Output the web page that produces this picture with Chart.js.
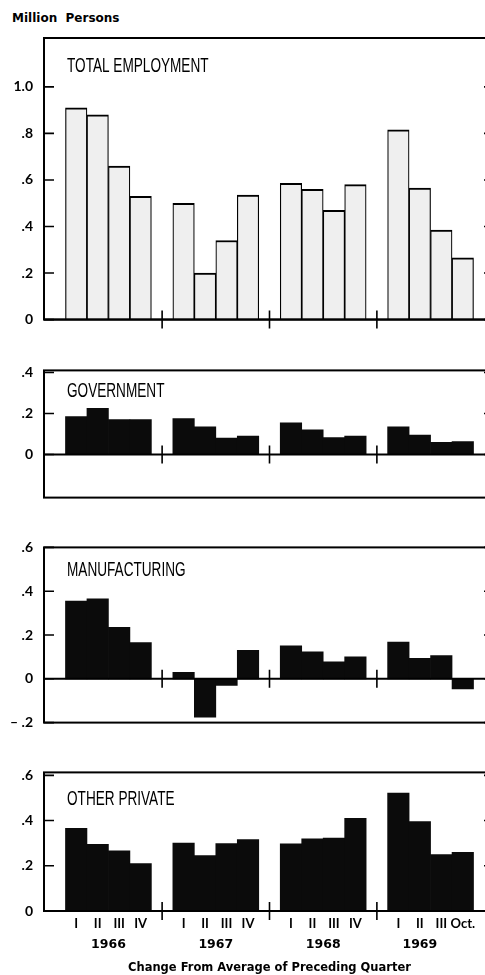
<!DOCTYPE html>
<html>
<head>
<meta charset="utf-8">
<script src="https://cdn.jsdelivr.net/npm/chart.js@4.4.1/dist/chart.umd.min.js"></script>
<style>
  html, body { margin: 0; padding: 0; background: #fff; overflow: hidden; width: 485px; height: 975px; }
  canvas { position: absolute; left: 0; }
  #unit { position: absolute; left: 12px; top: 10px; font: bold 12px "DejaVu Sans", sans-serif; line-height: 16px; color: #000; white-space: pre; }
</style>
</head>
<body>
<div id="unit">Million  Persons</div>
<canvas id="total" width="505" height="339" style="top:0px"></canvas>
<canvas id="gov" width="505" height="166" style="top:351px"></canvas>
<canvas id="mfg" width="505" height="214" style="top:528px"></canvas>
<canvas id="other" width="505" height="222" style="top:753px"></canvas>
<script>
// quarters 1966 I .. 1969 Oct., change from average of preceding quarter (million persons)
const quarters = ["", "I", "II", "III", "IV", "", "I", "II", "III", "IV", "", "I", "II", "III", "IV", "", "I", "II", "III", "Oct.", ""];
const years = ["1966", "1967", "1968", "1969"];
const yearSpans = [[1, 4], [6, 9], [11, 14], [16, 18]];
const separatorSlots = [5, 10, 15];

const totalEmployment = [0.91, 0.88, 0.66, 0.53, 0.50, 0.20, 0.34, 0.535, 0.585, 0.56, 0.47, 0.58, 0.815, 0.565, 0.385, 0.265];
const government = [0.185, 0.225, 0.17, 0.17, 0.175, 0.135, 0.08, 0.09, 0.155, 0.12, 0.083, 0.09, 0.135, 0.095, 0.06, 0.063];
const manufacturing = [0.355, 0.365, 0.235, 0.165, 0.03, -0.175, -0.03, 0.13, 0.15, 0.123, 0.078, 0.10, 0.168, 0.094, 0.106, -0.046];
const otherPrivate = [0.366, 0.295, 0.266, 0.21, 0.30, 0.245, 0.298, 0.316, 0.297, 0.319, 0.322, 0.41, 0.522, 0.396, 0.249, 0.259];

const totalTicks = [0, 0.2, 0.4, 0.6, 0.8, 1.0];
const totalTickLabels = ["0", ".2", ".4", ".6", ".8", "1.0"];
const govTicks = [0, 0.2, 0.4];
const govTickLabels = ["0", ".2", ".4"];
const mfgTicks = [-0.2, 0, 0.2, 0.4, 0.6];
const mfgTickLabels = ["\u2013 .2", "0", ".2", ".4", ".6"];
const otherTicks = [0, 0.2, 0.4, 0.6];
const otherTickLabels = ["0", ".2", ".4", ".6"];

// put a blank slot in front of every year
const withGaps = (values) => {
    const out = [];
    values.forEach((v, i) => {
        if (i % 4 === 0) out.push(null);
        out.push(v);
    });
    out.push(null);
    return out;
};

const framePlugin = {
    id: 'frame',
    afterDatasetsDraw(chart, args, opts) {
        const {ctx, chartArea: a, scales: {x, y}} = chart;
        const y0 = y.getPixelForValue(0);
        ctx.save();
        ctx.strokeStyle = '#000';
        ctx.lineWidth = 2;
        ctx.strokeRect(a.left, a.top, a.right - a.left, a.bottom - a.top);
        ctx.beginPath();
        ctx.moveTo(a.left, y0);
        ctx.lineTo(a.right, y0);
        ctx.stroke();
        ctx.lineWidth = 1.6;
        ctx.beginPath();
        separatorSlots.forEach(i => {
            const px = x.getPixelForValue(i);
            ctx.moveTo(px, y0 - 9);
            ctx.lineTo(px, y0 + 9);
        });
        opts.ticks.forEach(v => {
            const py = y.getPixelForValue(v);
            ctx.moveTo(a.left, py);
            ctx.lineTo(a.left + 10, py);
            ctx.moveTo(a.right - 11, py);
            ctx.lineTo(a.right, py);
        });
        ctx.stroke();

        ctx.fillStyle = '#000';
        ctx.font = '20px "Liberation Sans", Arial, sans-serif';
        ctx.textBaseline = 'alphabetic';
        ctx.textAlign = 'left';
        ctx.translate(a.left + 23, a.top + opts.titleY);
        ctx.scale(0.68, 1);
        ctx.fillText(opts.title, 0, 0);
        ctx.restore();

        if (opts.showYears) {
            ctx.save();
            ctx.fillStyle = '#000';
            ctx.font = 'bold 12.5px "DejaVu Sans", sans-serif';
            ctx.textAlign = 'center';
            ctx.textBaseline = 'middle';
            years.forEach((yr, i) => {
                const [s, e] = yearSpans[i];
                const xc = (x.getPixelForValue(s) + x.getPixelForValue(e)) / 2;
                ctx.fillText(yr, xc, a.bottom + 34);
            });
            ctx.restore();
        }
    }
};

const makePanel = (id, values, cfg) => {
    const black = !cfg.open;
    const showX = !!cfg.showX;
    return new Chart(document.getElementById(id), {
        type: 'bar',
        data: {
            labels: quarters,
            datasets: [{
                data: withGaps(values),
                backgroundColor: black ? '#0b0b0b' : '#efefef',
                borderColor: '#000',
                borderWidth: black ? 0 : {top: 2, left: 1.2, right: 1.2, bottom: 0},
                borderSkipped: 'bottom',
                barPercentage: 1,
                categoryPercentage: 1,
            }]
        },
        options: {
            responsive: false,
            animation: false,
            events: [],
            layout: {padding: {top: cfg.padTop, bottom: showX ? 0 : 12, left: 0, right: 10}},
            plugins: {
                legend: {display: false},
                tooltip: {enabled: false},
                frame: {ticks: cfg.ticks, title: cfg.title, titleY: cfg.titleY, showYears: showX},
            },
            scales: {
                x: {
                    display: showX,
                    grid: {display: false, drawTicks: false},
                    border: {display: false},
                    ticks: {
                        autoSkip: false,
                        maxRotation: 0,
                        padding: 5,
                        color: '#000',
                        font: {family: 'Lato, sans-serif', weight: 'bold', size: 13},
                    },
                    title: {
                        display: showX,
                        text: 'Change From Average of Preceding Quarter',
                        color: '#000',
                        font: {family: '"DejaVu Sans", sans-serif', weight: 'bold', size: 11.5},
                        padding: {top: 0, bottom: 0},
                    },
                    afterFit: (s) => { if (showX) s.height = 64; },
                },
                y: {
                    min: cfg.min,
                    max: cfg.max,
                    grid: {display: false, drawTicks: false},
                    border: {display: false},
                    afterBuildTicks: (s) => { s.ticks = cfg.ticks.map(v => ({value: v})); },
                    ticks: {
                        padding: 11,
                        color: '#000',
                        font: {family: 'Lato, sans-serif', weight: 'bold', size: 14},
                        callback: (v, i) => cfg.tickLabels[i],
                    },
                    afterFit: (s) => { s.width = 44; },
                },
            },
        },
        plugins: [framePlugin],
    });
};

makePanel('total', totalEmployment, {open: true, padTop: 38, min: 0, max: 1.21, ticks: totalTicks, tickLabels: totalTickLabels, title: 'TOTAL EMPLOYMENT', titleY: 33.5});
makePanel('gov', government, {padTop: 12, min: -0.21, max: 0.41, ticks: govTicks, tickLabels: govTickLabels, title: 'GOVERNMENT', titleY: 27});
makePanel('mfg', manufacturing, {padTop: 12, min: -0.2, max: 0.6, ticks: mfgTicks, tickLabels: mfgTickLabels, title: 'MANUFACTURING', titleY: 29});
makePanel('other', otherPrivate, {padTop: 12, min: 0, max: 0.613, ticks: otherTicks, tickLabels: otherTickLabels, title: 'OTHER PRIVATE', titleY: 32.7, showX: true});
</script>
</body>
</html>
